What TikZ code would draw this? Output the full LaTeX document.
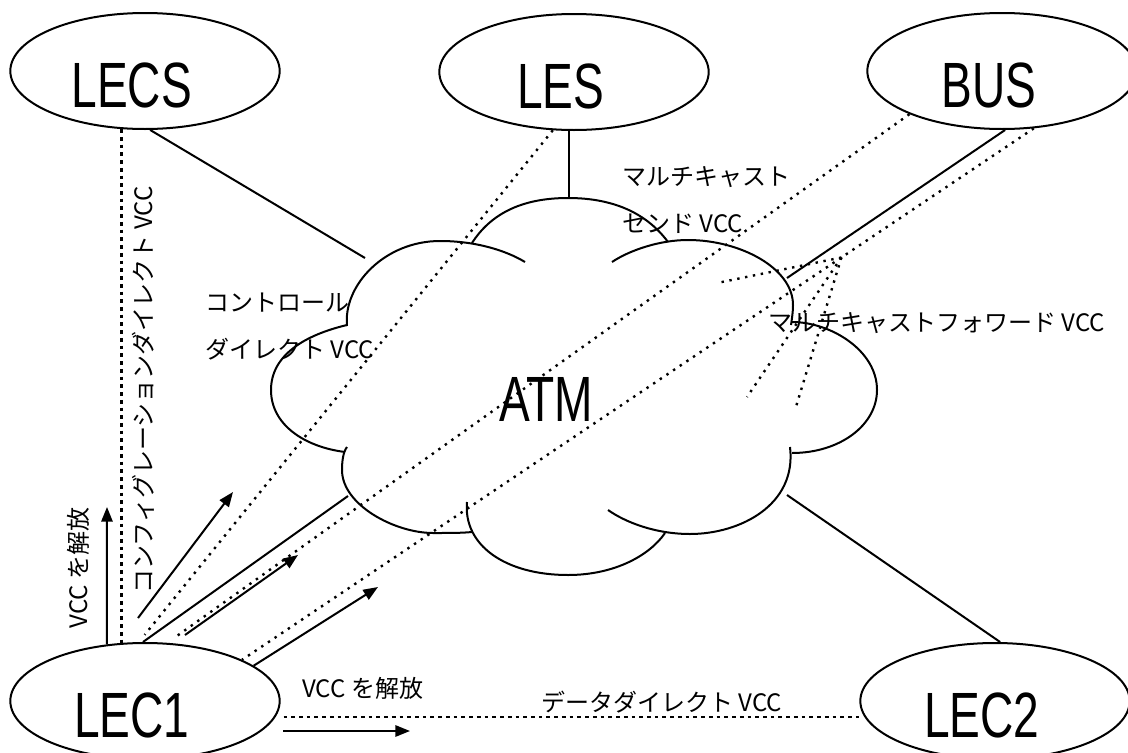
\documentclass[tikz,border=0pt]{standalone}
\usepackage{graphicx}
\usepackage{fontspec}
\setmainfont{Noto Sans CJK JP}
\newfontfamily\lib{Liberation Sans}
\usetikzlibrary{shapes.geometric, arrows.meta}
\newcommand{\cond}[1]{\scalebox{0.72}[1]{#1}\kern20pt}

\begin{document}
\begin{tikzpicture}[x=0.75pt, y=-0.75pt,
    ell/.style={ellipse, draw, line width=1.5pt, minimum width=202pt, minimum height=87pt, inner sep=0pt,
      font=\lib\fontsize{48}{48}\selectfont, text height=54pt, text depth=0pt},
    lbl/.style={font=\fontsize{18}{20}\selectfont, inner sep=0pt},
    sl/.style={line width=1.5pt},
    dots/.style={line width=1.8pt, dash pattern=on 1.8pt off 4.2pt},
    dsh/.style={line width=1.6pt, dash pattern=on 2.8pt off 3pt},
    arr/.style={line width=1.5pt, -{Triangle[length=11pt, width=8.5pt]}},
  ]
  \useasboundingbox (0,0) rectangle (1128,753);

  % servers and clients
  \node[ell] (LECS) at (145,71) {\cond{LECS}};
  \node[ell] (LES) at (574,72) {\cond{LES}};
  \node[ell] (BUS) at (1002,71) {\cond{BUS}};
  \node[ell] (LEC1) at (145,701) {\cond{LEC1}};
  \node[ell] (LEC2) at (995,701) {\cond{LEC2}};

  % ATM cloud
  \draw[sl] (347,326) .. controls (343,285) and (385,241) .. (440,241) .. controls (475,241) and (505,250) .. (525,262);
  \draw[sl] (472,243) .. controls (490,215) and (520,198) .. (568,198) .. controls (616,198) and (648,215) .. (668,242);
  \draw[sl] (612,262) .. controls (630,250) and (660,240) .. (688,240) .. controls (740,240) and (793,268) .. (793,305)
    .. controls (793,312) and (792,318) .. (791,325);
  \draw[sl] (792,322) .. controls (830,322) and (877,350) .. (877,390) .. controls (877,425) and (840,453) .. (792,453);
  \draw[sl] (790,447) .. controls (797,505) and (740,534) .. (690,534) .. controls (655,534) and (625,522) .. (608,510);
  \draw[sl] (467,502) .. controls (463,545) and (505,575) .. (568,575) .. controls (615,575) and (650,555) .. (665,533);
  \draw[sl] (347,447) .. controls (343,452) and (342,462) .. (342,470) .. controls (342,505) and (395,533) .. (433,533)
    .. controls (450,533) and (462,533) .. (472,532);
  \draw[sl] (347,325) .. controls (305,335) and (271,355) .. (271,390) .. controls (271,425) and (305,447) .. (345,452);
  \node[font=\lib\fontsize{48}{48}\selectfont] (atm) at (546,399) {\scalebox{0.72}[1]{ATM}};

  \coordinate (clLECS) at (365,258);
  \coordinate (clLES) at (568,198);
  \coordinate (clBUS) at (787,278);
  \coordinate (clLEC2) at (787,495);
  \coordinate (clLEC1) at (348,496);

  % links to the cloud
  \draw[sl] (LECS.275) -- (clLECS);
  \draw[sl] (LES.265) -- (LES.265 |- clLES);
  \draw[sl] (BUS.273) -- (clBUS);
  \draw[sl] (LEC2.85) -- (clLEC2);
  \draw[sl] (LEC1.92) -- (clLEC1);

  % VCCs
  \draw[dsh] (LECS.248) -- (LECS.248 |- LEC1.112);
  \draw[dots, shorten >=7pt] (LES.250) -- (LEC1.96);
  \draw[dots, shorten >=7pt] (BUS.205) -- (LEC1.69);
  \draw[dots] (BUS.299) -- (LEC1.23) coordinate[pos=0.243] (fan);
  \coordinate (f1) at (717,283);
  \coordinate (f2) at (747,397);
  \coordinate (f3) at (795,410);
  \draw[dots] (fan) -- (f1);
  \draw[dots] (fan) -- (f2);
  \draw[dots] (fan) -- (f3);
  \draw[dsh, shorten <=6pt] (LEC1.353) -- (LEC1.353 -| LEC2.west);

  % arrows
  \coordinate (a1s) at (138,618);
  \coordinate (a1e) at (233,492);
  \coordinate (a2s) at (185,635);
  \coordinate (a2e) at (298,555);
  \coordinate (a3e) at (378,587);
  \coordinate (a4e) at (107,507);
  \coordinate (a5s) at (283,731);
  \coordinate (a5e) at (410,731);
  \draw[arr] (a1s) -- (a1e);
  \draw[arr] (a2s) -- (a2e);
  \draw[arr] (LEC1.18) -- (a3e);
  \draw[arr] (LEC1.124) -- (a4e);
  \draw[arr] (a5s) -- (a5e);

  % labels
  \node[lbl, anchor=west] (ctl1) at (205,303) {コントロール};
  \node[lbl, anchor=west] (ctl2) at (205,349) {ダイレクト VCC};
  \node[lbl, anchor=west] (mcs1) at (622,177) {マルチキャスト};
  \node[lbl, anchor=west] (mcs2) at (622,224) {センド VCC};
  \node[lbl, anchor=west] (mcf) at (768,323) {マルチキャストフォワード VCC};
  \node[lbl, anchor=west] (rel2) at (302,688) {VCC を解放};
  \node[lbl, anchor=west] (dd) at (541,702) {データダイレクト VCC};
  \node[lbl, rotate=90] (cfg) at (143,390) {コンフィグレーションダイレクト VCC};
  \node[lbl, rotate=90] (rel1) at (78,568) {VCC を解放};
\end{tikzpicture}
\end{document}
